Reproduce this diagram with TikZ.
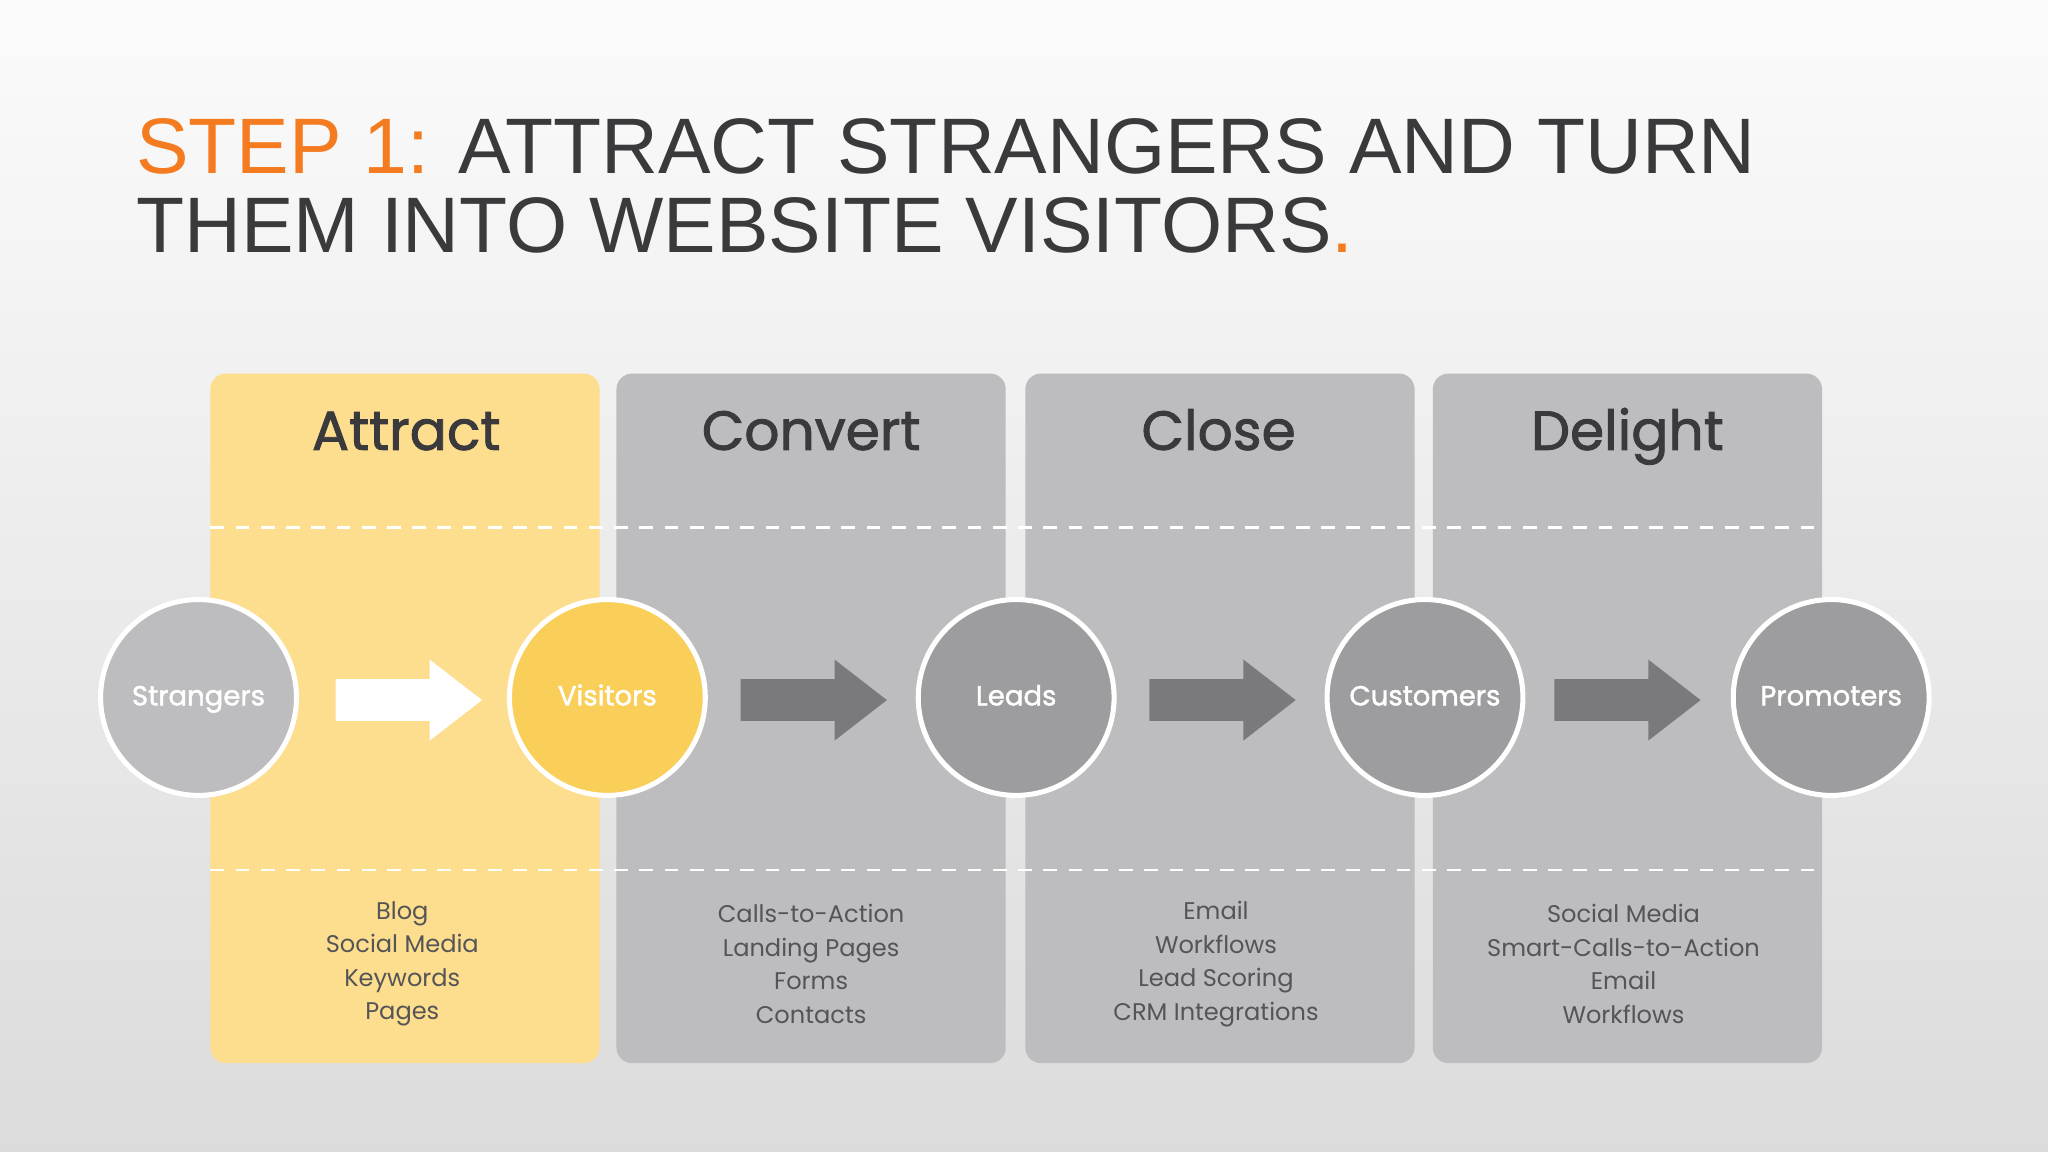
\documentclass[tikz,border=0pt]{standalone}
\usepackage{fontspec}
\setmainfont{Liberation Sans}
\newfontfamily\pop{Poppins}
\newfontfamily\popb[FakeBold=1.6]{Poppins}
\definecolor{orng}{HTML}{F47B20}
\definecolor{dark}{HTML}{3A3A3C}
\definecolor{panel}{HTML}{BDBCBE}
\definecolor{ylw}{HTML}{FCDE8E}
\definecolor{ylwc}{HTML}{F9CF5A}
\definecolor{cgray}{HTML}{9D9C9F}
\definecolor{agray}{HTML}{7A797C}
\definecolor{txt}{HTML}{555557}
\tikzset{
  pnl/.style={rounded corners=0.24cm},
  dl/.style={white,line width=1.2pt,dash pattern=on 6pt off 5pt},
  circ/.style={circle,draw=white,line width=2.2pt,minimum size=3cm,inner sep=0pt,text=white,text height=1.6ex,text depth=0.3ex,font=\popb\fontsize{12}{14}\selectfont},
  hdr/.style={text=dark,text height=2ex,text depth=0.4ex,font=\popb\fontsize{24}{30}\selectfont},
  lst/.style={text=txt,align=center,font=\pop\fontsize{10.5}{14.6}\selectfont},
  ttl/.style={anchor=base west,inner sep=0pt,font=\fontsize{34.3}{40}\selectfont,text=dark},
}
\newcommand{\bigarrow}[2]{\fill[#2] ($(#1)+(-56,-16)$) -- ($(#1)+(16,-16)$) -- ($(#1)+(16,-31)$) -- ($(#1)+(56,0)$) -- ($(#1)+(16,31)$) -- ($(#1)+(16,16)$) -- ($(#1)+(-56,16)$) -- cycle;}
\usetikzlibrary{calc}
\begin{document}
\begin{tikzpicture}[x=0.02cm,y=-0.02cm]
\shade[top color=gray!3,bottom color=gray!28] (0,0) rectangle (1568,882);
\useasboundingbox (0,0) rectangle (1568,882);
\node[ttl] (t1) at (104,133) {\textcolor{orng}{STEP 1:} ATTRACT STRANGERS AND TURN};
\node[ttl] (t2) at (104,193) {THEM INTO WEBSITE VISITORS\textcolor{orng}{.}};
\fill[ylw,pnl] (161,286) rectangle (459,814);
\fill[panel,pnl] (472,286) rectangle (770,814);
\fill[panel,pnl] (785,286) rectangle (1083,814);
\fill[panel,pnl] (1097,286) rectangle (1395,814);
\draw[dl] (161,404) -- (1395,404);
\draw[dl] (161,666) -- (1395,666);
\node[hdr] (h1) at (311,337) {Attract};
\node[hdr] (h2) at (621,337) {Convert};
\node[hdr] (h3) at (933,337) {Close};
\node[hdr] (h4) at (1246,337) {Delight};
\node[circ,fill=panel] (c1) at (152,534) {Strangers};
\node[circ,fill=ylwc] (c2) at (465,534) {Visitors};
\node[circ,fill=cgray] (c3) at (778,534) {Leads};
\node[circ,fill=cgray] (c4) at (1091,534) {Customers};
\node[circ,fill=cgray] (c5) at (1402,534) {Promoters};
\coordinate (a1) at (313,536);
\coordinate (a2) at (623,536);
\coordinate (a3) at (936,536);
\coordinate (a4) at (1246,536);
\bigarrow{a1}{white}
\bigarrow{a2}{agray}
\bigarrow{a3}{agray}
\bigarrow{a4}{agray}
\node[lst] (l1) at (308,738) {Blog\\Social Media\\Keywords\\Pages};
\node[lst] (l2) at (621,738) {Calls-to-Action\\Landing Pages\\Forms\\Contacts};
\node[lst] (l3) at (931,738) {Email\\Workflows\\Lead Scoring\\CRM Integrations};
\node[lst] (l4) at (1243,738) {Social Media\\Smart-Calls-to-Action\\Email\\Workflows};
\end{tikzpicture}
\end{document}
